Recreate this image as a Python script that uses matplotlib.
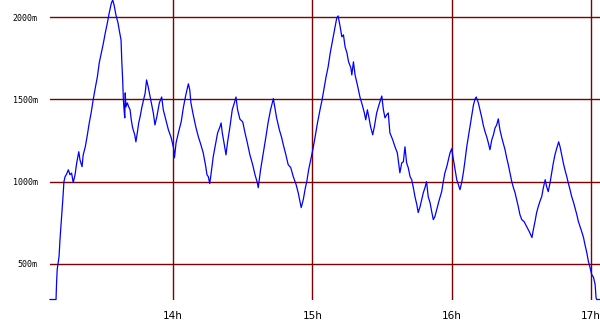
import numpy as np
import matplotlib
matplotlib.use("Agg")
import matplotlib.pyplot as plt

# minutes after 13:00, value in m
minutes = [
    7.0, 9.6, 9.8, 10.1, 10.9, 11.3, 11.7, 12.2, 12.6, 13.0, 13.5, 14.2, 14.9, 15.6,
    16.3, 17.0, 17.8, 18.5, 19.4, 19.9, 20.8, 21.3, 22.2, 23.1, 23.9, 24.8, 25.6,
    26.5, 27.4, 28.2, 29.1, 30.0, 30.8, 31.7, 32.5, 33.4, 34.0, 34.6, 35.4, 36.3,
    36.8, 37.6, 37.9, 38.3, 38.6, 38.9, 39.2, 39.4, 39.7, 40.3, 40.9, 41.5, 42.0,
    42.6, 43.5, 44.0, 44.6, 45.2, 45.8, 46.6, 47.5, 48.0, 48.6, 49.3, 50.4, 51.5,
    52.2, 53.0, 54.1, 55.1, 55.8, 56.9, 58.0, 59.2, 60.2, 60.6, 61.3, 62.3, 63.5,
    64.5, 65.5, 66.6, 67.2, 67.7, 68.7, 69.8, 70.9, 72.0, 73.0, 74.1, 74.6, 75.2,
    75.8, 76.6, 77.3, 78.4, 79.2, 80.2, 80.7, 81.2, 82.1, 82.8, 83.5, 84.5, 85.5,
    86.4, 87.1, 87.8, 88.8, 90.0, 91.0, 92.0, 93.1, 94.3, 95.3, 96.3, 96.7, 97.7,
    98.9, 100.0, 101.0, 102.0, 103.2, 104.6, 105.8, 106.8, 107.5, 108.6, 109.6,
    110.7, 111.8, 113.0, 113.9, 114.7, 115.2, 116.1, 117.0, 117.6, 118.4, 119.3,
    120.2, 121.2, 122.2, 123.3, 124.2, 125.1, 125.9, 126.8, 127.7, 128.5, 129.8,
    130.5, 131.1, 132.0, 132.7, 133.4, 134.1, 134.9, 135.6, 136.6, 137.0, 137.7,
    138.4, 139.4, 140.5, 141.5, 142.4, 143.0, 143.7, 144.4, 145.1, 146.0, 146.7,
    147.7, 148.7, 149.9, 150.6, 151.3, 152.0, 152.7, 153.4, 154.6, 155.6, 156.6,
    157.4, 157.7, 158.5, 159.2, 159.9, 160.6, 161.3, 162.1, 162.8, 163.5, 164.2,
    165.0, 165.6, 166.4, 167.1, 167.8, 168.5, 169.2, 169.9, 170.7, 171.4, 172.1,
    172.8, 173.8, 174.7, 175.7, 176.4, 177.1, 177.9, 178.6, 179.3, 180.0, 180.8,
    181.5, 182.2, 182.9, 183.6, 184.4, 185.1, 185.8, 186.5, 187.2, 187.9, 188.7,
    189.4, 190.1, 190.6, 191.5, 192.2, 193.0, 193.6, 194.4, 195.1, 195.8, 196.5,
    197.3, 198.0, 198.7, 199.4, 200.1, 200.8, 201.6, 202.2, 203.0, 203.7, 204.4,
    205.1, 205.9, 206.6, 207.3, 208.0, 208.7, 209.4, 210.2, 211.2, 212.3, 213.4,
    214.6, 215.2, 215.9, 216.6, 217.3, 218.0, 218.8, 219.5, 220.3, 220.9, 221.6,
    222.4, 223.1, 223.8, 224.5, 225.2, 226.1, 226.7, 227.4, 228.1, 228.8, 229.6,
    230.2, 231.0, 231.7, 232.4, 233.1, 233.9, 234.6, 235.3, 236.0, 236.8, 237.4,
    238.2, 238.9, 239.6, 240.3, 241.1, 241.8, 242.2, 242.5, 243.9,
]
values = [
    283, 283, 374, 465, 545, 647, 727, 829, 908, 1000, 1030, 1048, 1072, 1042,
    1052, 994, 1042, 1114, 1182, 1133, 1091, 1163, 1212, 1285, 1357, 1425, 1498,
    1570, 1637, 1722, 1783, 1843, 1904, 1965, 2026, 2085, 2105, 2075, 2014, 1965,
    1923, 1862, 1741, 1619, 1498, 1437, 1388, 1540, 1455, 1479, 1455, 1437, 1376,
    1327, 1285, 1242, 1297, 1357, 1394, 1455, 1510, 1540, 1619, 1576, 1498, 1418,
    1345, 1394, 1479, 1515, 1437, 1376, 1315, 1267, 1206, 1145, 1236, 1297, 1364,
    1455, 1528, 1595, 1558, 1479, 1406, 1333, 1273, 1224, 1175, 1091, 1042, 1030,
    988, 1072, 1151, 1236, 1297, 1333, 1357, 1297, 1224, 1163, 1242, 1333, 1437,
    1479, 1515, 1437, 1380, 1364, 1297, 1236, 1163, 1103, 1042, 994, 963, 1072,
    1175, 1273, 1364, 1437, 1505, 1388, 1315, 1267, 1224, 1163, 1103,
    1085, 1030, 982, 933, 879, 842, 891, 963, 1000, 1072, 1133,
    1194, 1273, 1357, 1437, 1498, 1570, 1637, 1698, 1783, 1843, 1940,
    1995, 2008, 1941, 1881, 1893, 1820, 1783, 1729, 1692, 1649, 1729,
    1649, 1588, 1515, 1467, 1418, 1376, 1437, 1388, 1333, 1285, 1333,
    1418, 1467, 1521, 1437, 1388, 1406, 1418, 1297, 1255, 1212, 1175,
    1085, 1054, 1114, 1121, 1212, 1114, 1085, 1030, 1012, 963, 909,
    860, 812, 848, 891, 933, 963, 1000, 909, 872, 818, 769,
    788, 842, 891, 939, 1000, 1054, 1091, 1133, 1175, 1200, 1133,
    1072, 1012, 982, 951, 1000, 1060, 1133, 1212, 1273, 1333, 1406,
    1467, 1503, 1515, 1479, 1437, 1388, 1345, 1303, 1273, 1236, 1194,
    1255, 1285, 1327, 1345, 1382, 1315, 1267, 1236, 1194, 1145, 1103,
    1054, 1000, 963, 933, 891, 848, 800, 769, 757, 727, 697,
    660, 709, 757, 812, 848, 879, 909, 963, 1012, 970, 939,
    994, 1054, 1114, 1163, 1200, 1242, 1212, 1163, 1114, 1072, 1030,
    994, 951, 909, 879, 842, 800, 757, 727, 697, 660, 618,
    569, 515, 478, 436, 418, 375, 294, 283, 283,
]

hour_ticks = [60, 120, 180, 240]
hour_labels = ["14h", "15h", "16h", "17h"]
y_ticks = [500, 1000, 1500, 2000]
y_labels = ["500m", "1000m", "1500m", "2000m"]

grid_color = "#800000"

fig = plt.figure(figsize=(6, 3.3), dpi=100)
ax = fig.add_axes([50 / 600, 30 / 330, 550 / 600, 300 / 330])

for t in hour_ticks:
    ax.axvline(t, color=grid_color, lw=1.0, zorder=1)
for v in y_ticks:
    ax.axhline(v, color=grid_color, lw=1.0, zorder=1)

ax.plot(minutes, values, color="#0000ff", lw=0.9, zorder=3, clip_on=False)

ax.set_xlim(7.0, 243.9)
ax.set_ylim(280, 2105)

ax.set_xticks(hour_ticks)
ax.set_xticklabels(hour_labels, fontsize=7.5, family="DejaVu Sans")
ax.set_yticks(y_ticks)
ax.set_yticklabels(y_labels, fontsize=6, family="DejaVu Sans Mono")
ax.tick_params(axis="x", length=0, pad=8)
ax.tick_params(axis="y", length=0, pad=9)

for s in ax.spines.values():
    s.set_visible(False)

fig.savefig("out.png", dpi=100, facecolor="white")
